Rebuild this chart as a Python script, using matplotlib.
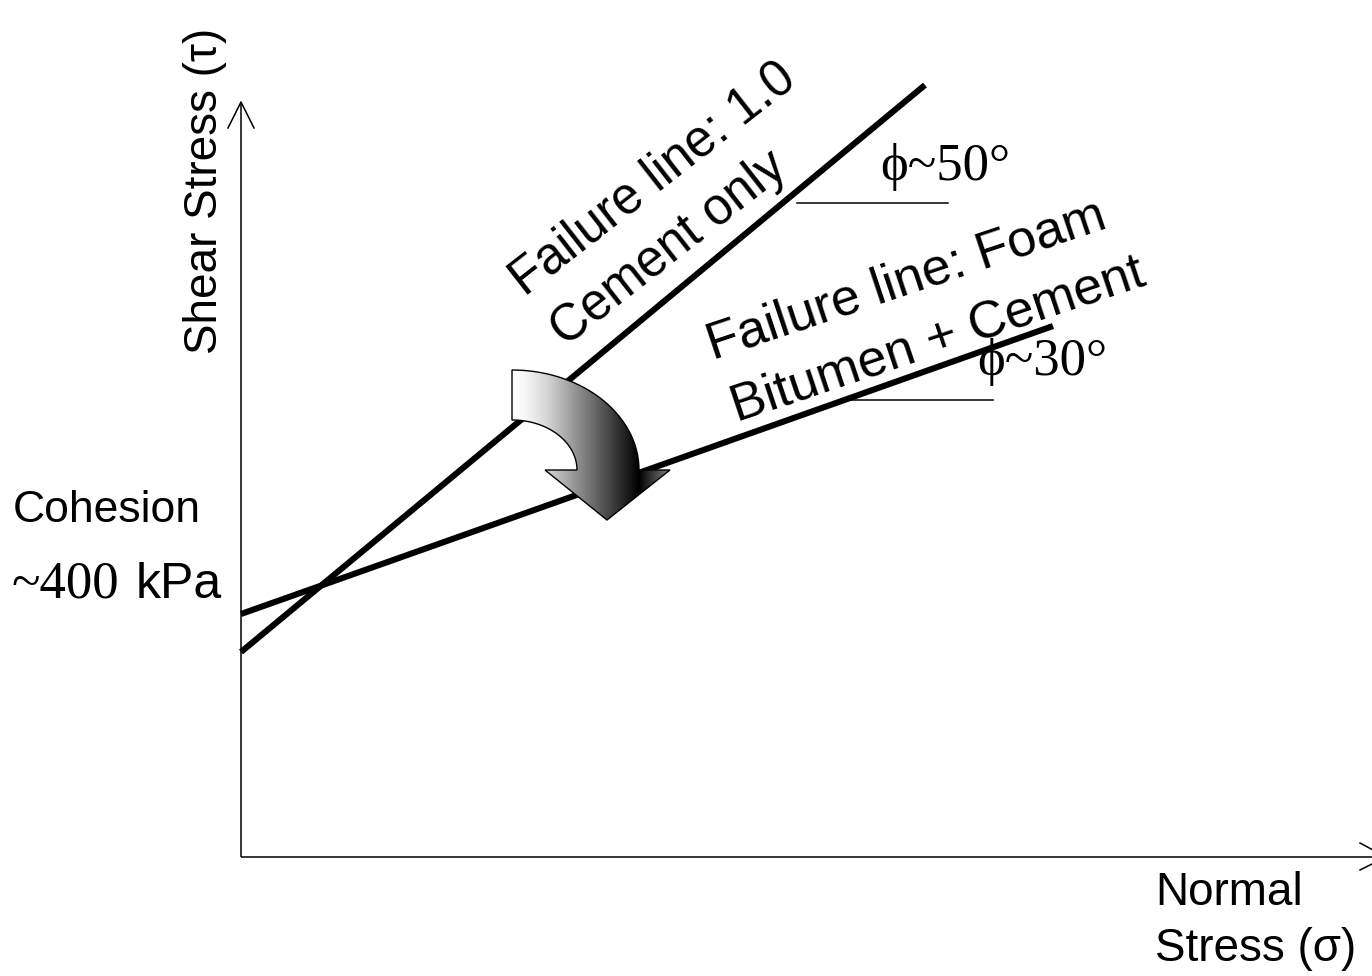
import numpy as np
import matplotlib
matplotlib.use("Agg")
import matplotlib.pyplot as plt
from matplotlib.path import Path
from matplotlib.patches import PathPatch
from matplotlib.colors import LinearSegmentedColormap

# ---- data (arbitrary stress units) ----
cement_sigma = [0, 684]
cement_tau = [205, 772]
foam_sigma = [0, 812]
foam_tau = [243, 531]
phi50_ref_sigma = [556, 707]
phi50_ref_tau = [654, 654]
phi30_ref_sigma = [611, 752]
phi30_ref_tau = [457, 457]

SANS = ['Liberation Sans', 'DejaVu Sans']
SERIF = ['Liberation Serif', 'DejaVu Serif']

fig = plt.figure(figsize=(13.72, 9.76), dpi=100)
ax = fig.add_axes([0, 0, 1, 1])
ax.set_xlim(-241, 1131)
ax.set_ylim(-119, 857)
ax.axis('off')

# axes with open arrow heads
ax.plot([0, 0], [0, 755], color='black', lw=1.1, solid_capstyle='butt')
ax.plot([-13, 0, 13], [729, 755, 729], color='black', lw=1.1)
ax.plot([0, 1145], [0, 0], color='black', lw=1.1, solid_capstyle='butt')
ax.plot([1119, 1145, 1119], [14, 0, -13], color='black', lw=1.1)

# failure lines
ax.plot(cement_sigma, cement_tau, color='black', lw=4.4, solid_capstyle='butt', zorder=3)
ax.plot(foam_sigma, foam_tau, color='black', lw=4.4, solid_capstyle='butt', zorder=3)

# angle reference lines
ax.plot(phi50_ref_sigma, phi50_ref_tau, color='black', lw=1.1)
ax.plot(phi30_ref_sigma, phi30_ref_tau, color='black', lw=1.1)

# curved block arrow
cx, cy = 271, 387
t_out = np.linspace(np.pi / 2, 0, 40)
t_in = np.linspace(0, np.pi / 2, 40)
pts = [(cx + 127 * np.cos(t), cy + 100 * np.sin(t)) for t in t_out]
pts += [(429, 387), (366, 337), (304, 387), (cx + 65, 387)]
pts += [(cx + 65 * np.cos(t), cy + 50 * np.sin(t)) for t in t_in]
pts.append(pts[0])
codes = [Path.MOVETO] + [Path.LINETO] * (len(pts) - 2) + [Path.CLOSEPOLY]
path = Path(pts, codes)
patch = PathPatch(path, facecolor='none', edgecolor='black', lw=1.0, zorder=6)
ax.add_patch(patch)
cmap = LinearSegmentedColormap.from_list(
    'g', [(0.0, (1, 1, 1)), (0.1, (0.97, 0.97, 0.97)), (0.25, (0.82, 0.82, 0.82)),
          (0.81, (0, 0, 0)), (1.0, (0.5, 0.5, 0.5))])
grad = np.linspace(0, 1, 256).reshape(1, -1)
im = ax.imshow(grad, cmap=cmap, extent=[268, 429, 337, 487], aspect='auto',
               zorder=5, interpolation='bilinear')
im.set_clip_path(patch)
ax.set_xlim(-241, 1131)
ax.set_ylim(-119, 857)

# texts
ax.text(-36, 666, 'Shear Stress (τ)', family=SANS, fontsize=33, rotation=90,
        ha='center', va='center')
ax.text(-228, 335, 'Cohesion', family=SANS, fontsize=32, ha='left', va='baseline')
ax.text(-229, 259, '~400', family=SERIF, fontsize=38, ha='left', va='baseline')
ax.text(-105, 259, 'kPa', family=SANS, fontsize=36, ha='left', va='baseline')
ax.text(914, -48, 'Normal', family=SANS, fontsize=33, ha='left', va='baseline')
ax.text(914, -104, 'Stress (σ)', family=SANS, fontsize=33, ha='left', va='baseline')

ax.text(284, 560, 'Failure line: 1.0', family=SANS, fontsize=36.5, rotation=38,
        rotation_mode='anchor', ha='left', va='baseline')
ax.text(324, 510, 'Cement only', family=SANS, fontsize=36.5, rotation=38,
        rotation_mode='anchor', ha='left', va='baseline')
ax.text(472, 497, 'Failure line: Foam', family=SANS, fontsize=37.5, rotation=18.5,
        rotation_mode='anchor', ha='left', va='baseline')
ax.text(496, 435, 'Bitumen + Cement', family=SANS, fontsize=37.5, rotation=18.5,
        rotation_mode='anchor', ha='left', va='baseline')

ax.text(639, 677, 'ϕ~50°', family=SERIF, fontsize=38, ha='left', va='baseline')
ax.text(736, 482, 'ϕ~30°', family=SERIF, fontsize=38, ha='left', va='baseline')

fig.savefig('out.png', dpi=100)
